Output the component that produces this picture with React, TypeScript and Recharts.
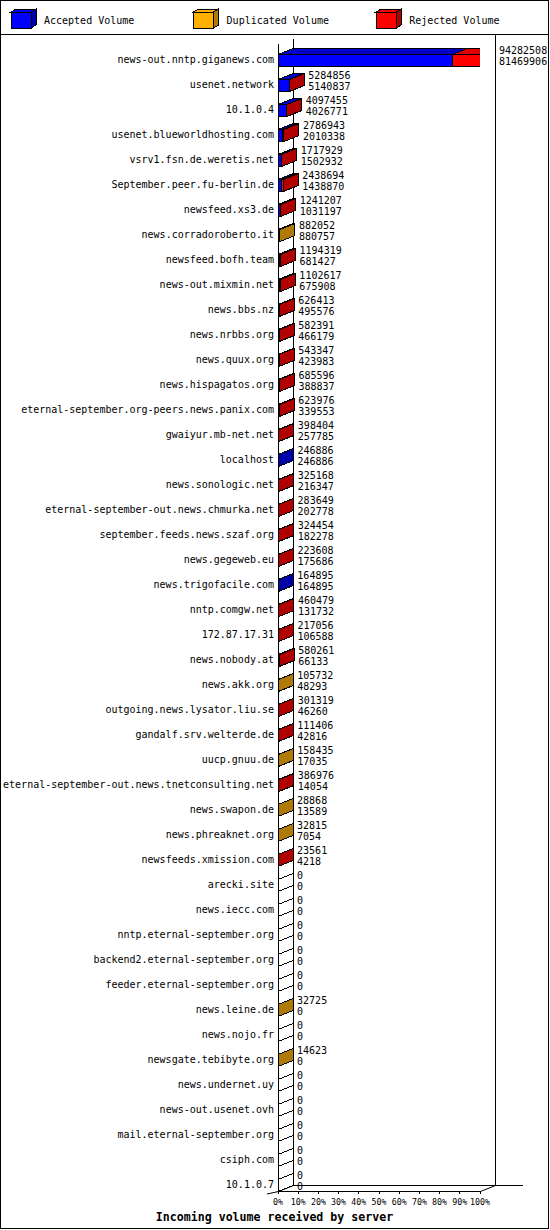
import { Bar, BarChart, LabelList, Legend, XAxis, YAxis } from "recharts";

// server names, top to bottom
const NAMES = [
  "news-out.nntp.giganews.com",
  "usenet.network",
  "10.1.0.4",
  "usenet.blueworldhosting.com",
  "vsrv1.fsn.de.weretis.net",
  "September.peer.fu-berlin.de",
  "newsfeed.xs3.de",
  "news.corradoroberto.it",
  "newsfeed.bofh.team",
  "news-out.mixmin.net",
  "news.bbs.nz",
  "news.nrbbs.org",
  "news.quux.org",
  "news.hispagatos.org",
  "eternal-september.org-peers.news.panix.com",
  "gwaiyur.mb-net.net",
  "localhost",
  "news.sonologic.net",
  "eternal-september-out.news.chmurka.net",
  "september.feeds.news.szaf.org",
  "news.gegeweb.eu",
  "news.trigofacile.com",
  "nntp.comgw.net",
  "172.87.17.31",
  "news.nobody.at",
  "news.akk.org",
  "outgoing.news.lysator.liu.se",
  "gandalf.srv.welterde.de",
  "uucp.gnuu.de",
  "eternal-september-out.news.tnetconsulting.net",
  "news.swapon.de",
  "news.phreaknet.org",
  "newsfeeds.xmission.com",
  "arecki.site",
  "news.iecc.com",
  "nntp.eternal-september.org",
  "backend2.eternal-september.org",
  "feeder.eternal-september.org",
  "news.leine.de",
  "news.nojo.fr",
  "newsgate.tebibyte.org",
  "news.undernet.uy",
  "news-out.usenet.ovh",
  "mail.eternal-september.org",
  "csiph.com",
  "10.1.0.7",
];

// upper number printed next to each bar (total volume)
const TOTAL = [
  94282508, 5284856, 4097455, 2786943, 1717929, 2438694, 1241207, 882052, 1194319, 1102617,
  626413, 582391, 543347, 685596, 623976, 398404, 246886, 325168, 283649, 324454,
  223608, 164895, 460479, 217056, 580261, 105732, 301319, 111406, 158435, 386976,
  28868, 32815, 23561, 0, 0, 0, 0, 0, 32725, 0,
  14623, 0, 0, 0, 0, 0,
];

// lower number printed next to each bar (accepted volume)
const ACCEPTED = [
  81469906, 5140837, 4026771, 2010338, 1502932, 1438870, 1031197, 880757, 681427, 675908,
  495576, 466179, 423983, 388837, 339553, 257785, 246886, 216347, 202778, 182278,
  175686, 164895, 131732, 106588, 66133, 48293, 46260, 42816, 17035, 14054,
  13589, 7054, 4218, 0, 0, 0, 0, 0, 0, 0,
  0, 0, 0, 0, 0, 0,
];

const DUPLICATED = [
  0, 0, 0, 0, 0, 0, 0, 1295, 0, 0,
  0, 0, 0, 0, 0, 0, 0, 0, 0, 0,
  0, 0, 0, 0, 0, 57439, 0, 0, 141400, 0,
  15279, 25761, 0, 0, 0, 0, 0, 0, 32725, 0,
  14623, 0, 0, 0, 0, 0,
];

const REJECTED = [
  12812602, 144019, 70684, 776605, 214997, 999824, 210010, 0, 512892, 426709,
  130837, 116212, 119364, 296759, 284423, 140619, 0, 108821, 80871, 142176,
  47922, 0, 328747, 110468, 514128, 0, 255059, 68590, 0, 372922,
  0, 0, 19343, 0, 0, 0, 0, 0, 0, 0,
  0, 0, 0, 0, 0, 0,
];

const PCT_TICKS = [0, 10, 20, 30, 40, 50, 60, 70, 80, 90, 100];

const SERIES = [
  { key: "accepted", name: "Accepted Volume" },
  { key: "duplicated", name: "Duplicated Volume" },
  { key: "rejected", name: "Rejected Volume" },
];

const FRONT = ["#0000ff", "#ffb000", "#ff0000"];
const TOP = ["#0000c8", "#e09c00", "#e00000"];
const SIDE = ["#0000a8", "#b07a08", "#b00000"];

const MONO = "'DejaVu Sans Mono', monospace";
const W = 550;
const H = 1230;
const DX = 15; // 3d depth
const DY = 6;
const FLOOR_Y = 1191;

const MAX = Math.max(...TOTAL);

const rows = NAMES.map((name, i) => ({
  name,
  accepted: ACCEPTED[i],
  duplicated: DUPLICATED[i],
  rejected: REJECTED[i],
}));

function makeBox(s: number) {
  return (props: any) => {
    const { x, y, width, height, payload } = props;
    const vals = [payload.accepted, payload.duplicated, payload.rejected];
    const sum = vals[0] + vals[1] + vals[2];
    let last = -1;
    vals.forEach((v, i) => {
      if (v > 0) last = i;
    });
    const w = Math.max(0, width || 0);
    const h = height;
    const sidePts = (sx: number) =>
      `${sx},${y} ${sx},${y + h} ${sx + DX},${y + h - DY} ${sx + DX},${y - DY}`;
    if (sum === 0) {
      if (s !== 0) return <g />;
      return (
        <polygon points={sidePts(x)} fill="#fff" stroke="#000" shapeRendering="crispEdges" />
      );
    }
    return (
      <g shapeRendering="crispEdges">
        {vals[s] > 0 && (
          <>
            <rect x={x} y={y} width={w} height={h} fill={FRONT[s]} stroke="#000" />
            <polygon
              points={`${x},${y} ${x + w},${y} ${x + w + DX},${y - DY} ${x + DX},${y - DY}`}
              fill={TOP[s]}
              stroke="#000"
            />
          </>
        )}
        {s === last && <polygon points={sidePts(x + w)} fill={SIDE[s]} stroke="#000" />}
      </g>
    );
  };
}

function NumberLabel(props: any) {
  const vb = props.viewBox ?? props;
  const i = props.index;
  const x = vb.x + Math.max(0, vb.width || 0) + DX + 4;
  const cy = vb.y + vb.height / 2;
  return (
    <g fontFamily={MONO} fontSize={10} fill="#000">
      <text x={x} y={cy - 10} dominantBaseline="central">
        {TOTAL[i]}
      </text>
      <text x={x} y={cy + 0.7} dominantBaseline="central">
        {ACCEPTED[i]}
      </text>
    </g>
  );
}

function ServerTick(props: any) {
  const { x, y, payload } = props;
  return (
    <text x={x} y={y - 0.5} textAnchor="end" dominantBaseline="central" fontFamily={MONO} fontSize={10} fill="#000">
      {payload.value}
    </text>
  );
}

function PctTick(props: any) {
  const { x, payload } = props;
  const pct = Math.round((payload.value / MAX) * 100);
  return (
    <g>
      <line x1={x} x2={x} y1={FLOOR_Y} y2={FLOOR_Y + 3} stroke="#000" shapeRendering="crispEdges" />
      <text x={x} y={1202} textAnchor="middle" dominantBaseline="central" fontFamily={MONO} fontSize={8.3} fill="#000">
        {pct}%
      </text>
    </g>
  );
}

function LegendContent(props: any) {
  const payload = props.payload || [];
  return (
    <svg width={W} height={35} style={{ display: "block" }}>
      {payload.map((p: any, i: number) => {
        const s = Math.max(0, SERIES.findIndex((ser) => ser.name === p.value));
        const bx = 11 + i * 182.6;
        const by = 12;
        const bw = 20;
        const bh = 16;
        return (
          <g key={p.value} shapeRendering="crispEdges">
            <polygon
              points={`${bx},${by} ${bx + bw},${by} ${bx + bw + 5},${by - 3} ${bx + 5},${by - 3}`}
              fill={FRONT[s]}
              stroke="#000"
            />
            <polygon
              points={`${bx + bw},${by} ${bx + bw},${by + bh} ${bx + bw + 5},${by + bh - 3} ${bx + bw + 5},${by - 3}`}
              fill={SIDE[s]}
              stroke="#000"
            />
            <rect x={bx} y={by} width={bw} height={bh} fill={FRONT[s]} stroke="#000" />
            <text x={bx + 33} y={20.5} dominantBaseline="central" fontFamily={MONO} fontSize={10} fill="#000">
              {p.value}
            </text>
          </g>
        );
      })}
    </svg>
  );
}

function Frame() {
  const L = 278.5;
  const B = 293.5;
  const R = 495.5;
  return (
    <svg width={W} height={H} style={{ position: "absolute", left: 0, top: 0 }} shapeRendering="crispEdges">
      <rect x={0.5} y={0.5} width={548} height={1228} fill="#fff" stroke="#000" />
      <line x1={0} x2={549} y1={34.5} y2={34.5} stroke="#000" />
      <line x1={B} x2={B} y1={39} y2={1185.5} stroke="#000" />
      <line x1={R} x2={R} y1={35} y2={1185.5} stroke="#000" />
      <line x1={B} x2={523} y1={1185.5} y2={1185.5} stroke="#000" />
      <line x1={L} x2={L} y1={44} y2={FLOOR_Y + 0.5} stroke="#000" />
      <line x1={L} x2={480.5} y1={FLOOR_Y + 0.5} y2={FLOOR_Y + 0.5} stroke="#000" />
      <g shapeRendering="auto">
        <line x1={480.5} x2={R} y1={FLOOR_Y + 0.5} y2={1185.5} stroke="#000" />
        <line x1={267} x2={L} y1={1194} y2={FLOOR_Y + 0.5} stroke="#000" />
        <line x1={L} x2={B} y1={FLOOR_Y + 0.5} y2={1185.5} stroke="#000" />
      </g>
      <text
        x={274.5}
        y={1217}
        textAnchor="middle"
        dominantBaseline="central"
        fontFamily={MONO}
        fontWeight="bold"
        fontSize={11.6}
        fill="#000"
      >
        Incoming volume received by server
      </text>
    </svg>
  );
}

export default function App() {
  return (
    <div style={{ position: "absolute", left: 0, top: 0, width: W, height: H, background: "#fff" }}>
      <Frame />
      <div style={{ position: "absolute", left: 0, top: 0 }}>
        <BarChart
          width={W}
          height={H}
          data={rows}
          layout="vertical"
          margin={{ top: 47.5, right: 70, bottom: 12.5, left: 0 }}
          barSize={12}
        >
          <XAxis
            type="number"
            domain={[0, MAX]}
            ticks={PCT_TICKS.map((p) => (p / 100) * MAX)}
            interval={0}
            allowDataOverflow
            height={20}
            axisLine={false}
            tickLine={false}
            tick={<PctTick />}
          />
          <YAxis
            type="category"
            dataKey="name"
            width={278}
            interval={0}
            axisLine={false}
            tickLine={false}
            tickSize={4}
            tickMargin={0}
            tick={<ServerTick />}
          />
          <Legend
            layout="horizontal"
            verticalAlign="middle"
            align="center"
            wrapperStyle={{ top: 0, left: 0, width: W, height: 35 }}
            content={<LegendContent />}
          />
          {SERIES.map((ser, s) => (
            <Bar
              key={ser.key}
              dataKey={ser.key}
              name={ser.name}
              stackId="v"
              fill={FRONT[s]}
              shape={makeBox(s)}
              isAnimationActive={false}
            >
              {s === SERIES.length - 1 && <LabelList dataKey={ser.key} content={<NumberLabel />} />}
            </Bar>
          ))}
        </BarChart>
      </div>
    </div>
  );
}
